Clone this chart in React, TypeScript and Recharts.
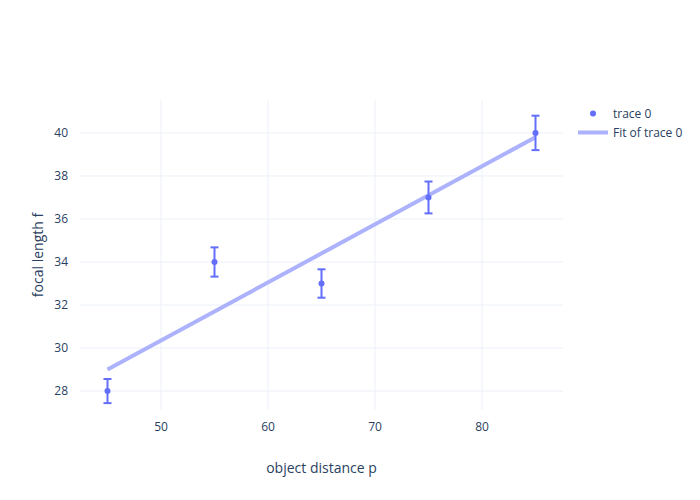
import { ComposedChart, Scatter, Line, XAxis, YAxis, CartesianGrid, ErrorBar } from "recharts";

const distances = [45, 55, 65, 75, 85];
const focalLengths = [28, 34, 33, 37, 40];
const focalErrors = [0.56, 0.68, 0.66, 0.74, 0.8];

const fitDistances = [45, 85];
const fitFocal = [29.0, 39.8];

const xTicks = [50, 60, 70, 80];
const yTicks = [28, 30, 32, 34, 36, 38, 40];

const FONT = '"Open Sans", sans-serif';
const TEXT = "#2a3f5f";
const TRACE = "#636efa";
const FIT = "#acb2fb";

const points = distances.map((p, i) => ({ p, f: focalLengths[i], err: focalErrors[i] }));
const fit = fitDistances.map((p, i) => ({ p, f: fitFocal[i] }));

function LegendBox() {
    return (
        <div style={{ position: "absolute", left: 578, top: 104, fontFamily: FONT, fontSize: 12, color: TEXT }}>
            <div style={{ display: "flex", alignItems: "center", height: 19 }}>
                <svg width={35} height={19}>
                    <circle cx={15} cy={9.5} r={3} fill={TRACE} />
                </svg>
                <span>trace 0</span>
            </div>
            <div style={{ display: "flex", alignItems: "center", height: 19 }}>
                <svg width={35} height={19}>
                    <line x1={0} x2={30} y1={9.5} y2={9.5} stroke={FIT} strokeWidth={4} />
                </svg>
                <span>Fit of trace 0</span>
            </div>
        </div>
    );
}

export default function App() {
    return (
        <div style={{ position: "absolute", left: 0, top: 0, width: 700, height: 500, background: "#fff" }}>
            <ComposedChart width={700} height={500} margin={{ top: 100, right: 137, bottom: 60, left: 20 }}>
                <CartesianGrid stroke="#ebf0f8" strokeWidth={1} syncWithTicks />
                <XAxis
                    dataKey="p"
                    type="number"
                    domain={[42.43, 87.57]}
                    ticks={xTicks}
                    allowDataOverflow
                    axisLine={false}
                    tickLine={false}
                    tickSize={0}
                    tickMargin={12}
                    height={30}
                    tick={{ fill: TEXT, fontSize: 12, fontFamily: FONT }}
                    label={{
                        content: ({ viewBox }: any) => (
                            <text x={viewBox.x + viewBox.width / 2} y={467} textAnchor="middle" dominantBaseline="central" fill={TEXT} fontSize={14} fontFamily={FONT}>
                                object distance p
                            </text>
                        ),
                    }}
                />
                <YAxis
                    dataKey="f"
                    type="number"
                    domain={[27.12, 41.53]}
                    ticks={yTicks}
                    allowDataOverflow
                    axisLine={false}
                    tickLine={false}
                    tickSize={0}
                    tickMargin={12}
                    width={60}
                    tick={{ fill: TEXT, fontSize: 12, fontFamily: FONT }}
                    label={{
                        content: ({ viewBox }: any) => {
                            const cx = 37;
                            const cy = viewBox.y + viewBox.height / 2;
                            return (
                                <text x={cx} y={cy} transform={`rotate(-90 ${cx} ${cy})`} textAnchor="middle" dominantBaseline="central" fill={TEXT} fontSize={14} fontFamily={FONT}>
                                    focal length f
                                </text>
                            );
                        },
                    }}
                />
                <Line data={fit} dataKey="f" stroke={FIT} strokeWidth={4} dot={false} activeDot={false} isAnimationActive={false} name="Fit of trace 0" />
                <Scatter data={points} dataKey="f" fill={TRACE} isAnimationActive={false} shape={(props: any) => <circle cx={props.cx} cy={props.cy} r={3} fill={TRACE} />} name="trace 0">
                    <ErrorBar dataKey="err" direction="y" width={4} stroke={TRACE} strokeWidth={2} isAnimationActive={false} />
                </Scatter>
            </ComposedChart>
            <LegendBox />
        </div>
    );
}
